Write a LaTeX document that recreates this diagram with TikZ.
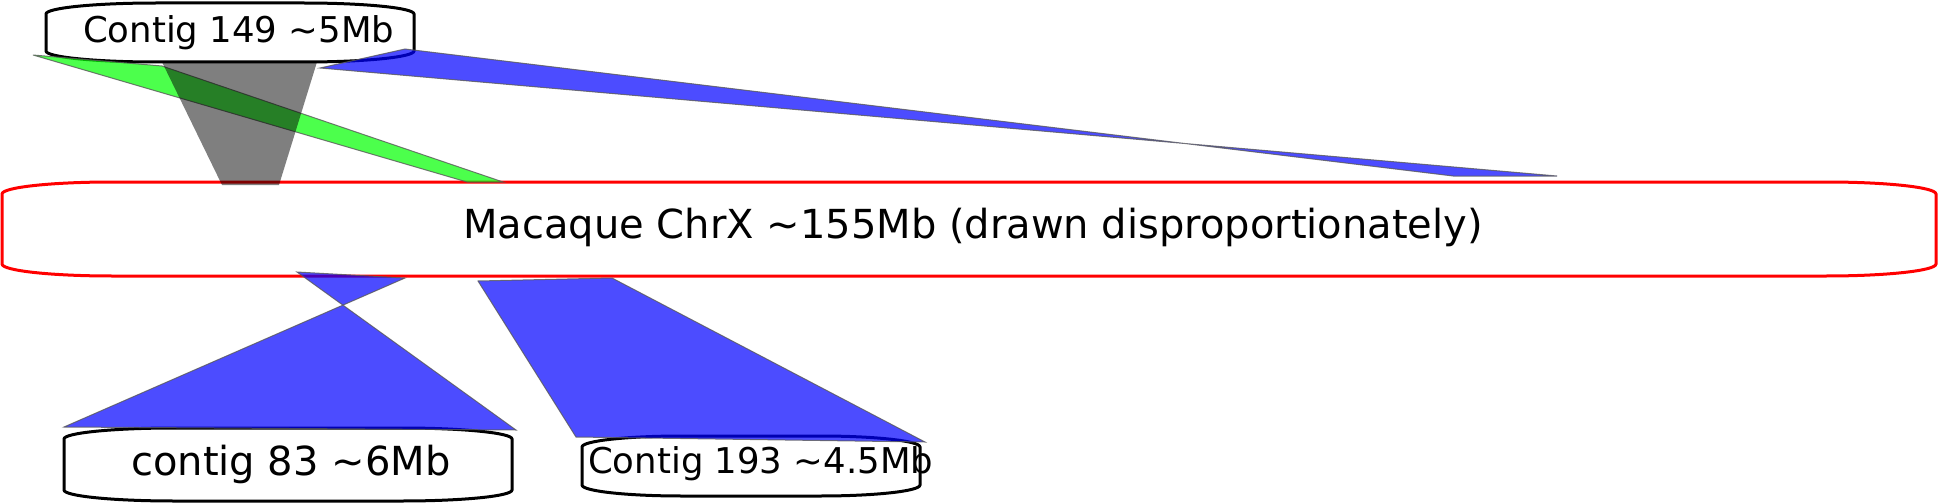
\documentclass[tikz,border=0pt]{standalone}
\usepackage{fontspec}
\setmainfont{DejaVu Sans}
\newcommand{\eroundbox}[7]{%
  \draw[#1] ({#2+#6},#3) -- ({#4-#6},#3)
    arc[start angle=90,end angle=0,x radius=#6pt,y radius=#7pt] -- (#4,{#5-#7})
    arc[start angle=0,end angle=-90,x radius=#6pt,y radius=#7pt] -- ({#2+#6},#5)
    arc[start angle=270,end angle=180,x radius=#6pt,y radius=#7pt] -- (#2,{#3+#7})
    arc[start angle=180,end angle=90,x radius=#6pt,y radius=#7pt] -- cycle;}
\begin{document}
\begin{tikzpicture}[x=1pt,y=-1pt,
  redbox/.style={draw=red,line width=3pt,fill=white},
  blackbox/.style={draw=black,line width=3pt,fill=white},
  bigtext/.style={inner sep=0pt,anchor=base west,font=\fontsize{40}{48}\selectfont},
  smalltext/.style={inner sep=0pt,anchor=base west,font=\fontsize{35.5}{42}\selectfont},
  blueribbon/.style={fill=blue,fill opacity=0.7,draw=black!65,line width=1pt,draw opacity=0.8},
  greenribbon/.style={fill=green,fill opacity=0.7,draw=black!65,line width=1pt,draw opacity=0.8},
  grayribbon/.style={fill=black,fill opacity=0.5,draw=none}]
\useasboundingbox (0,0) rectangle (1939,503);
% boxes
\eroundbox{redbox}{2}{182}{1936}{276}{110}{12}
\eroundbox{blackbox}{46}{3}{414}{62}{110}{11}
\eroundbox{blackbox}{64}{428}{512}{501}{110}{11}
\eroundbox{blackbox}{582}{436}{920}{496}{100}{11}
% labels
\node[bigtext] (main) at (463,238) {Macaque ChrX \textasciitilde155Mb (drawn disproportionately)};
\node[smalltext] (c149) at (83,43) {Contig 149 \textasciitilde5Mb};
\node[bigtext] (c83) at (131,475) {contig 83 \textasciitilde6Mb};
\node[smalltext] (c193) at (588,473) {Contig 193 \textasciitilde4.5Mb};
% ribbons
\coordinate (g1) at (33,55); \coordinate (g2) at (162,66);
\coordinate (g3) at (503,182); \coordinate (g4) at (467,182);
\draw[greenribbon] (g1) -- (g2) -- (g3) -- (g4) -- cycle;
\coordinate (k1) at (162,62); \coordinate (k2) at (317,62);
\coordinate (k3) at (279,185); \coordinate (k4) at (222,185);
\fill[grayribbon] (k1) -- (k2) -- (k3) -- (k4) -- cycle;
\coordinate (b1) at (320,68); \coordinate (b2) at (405,49);
\coordinate (b3) at (1453,176); \coordinate (b4) at (1557,176);
\draw[blueribbon] (b1) -- (b2) -- (b3) -- (b4) -- cycle;
\coordinate (d1) at (297,272); \coordinate (d2) at (405,278);
\coordinate (d3) at (64,427); \coordinate (d4) at (516,430);
\draw[blueribbon] (d1) -- (d2) -- (d3) -- (d4) -- cycle;
\coordinate (e1) at (478,281); \coordinate (e2) at (612,278);
\coordinate (e3) at (925,442); \coordinate (e4) at (576,437);
\draw[blueribbon] (e1) -- (e2) -- (e3) -- (e4) -- cycle;
\end{tikzpicture}
\end{document}
